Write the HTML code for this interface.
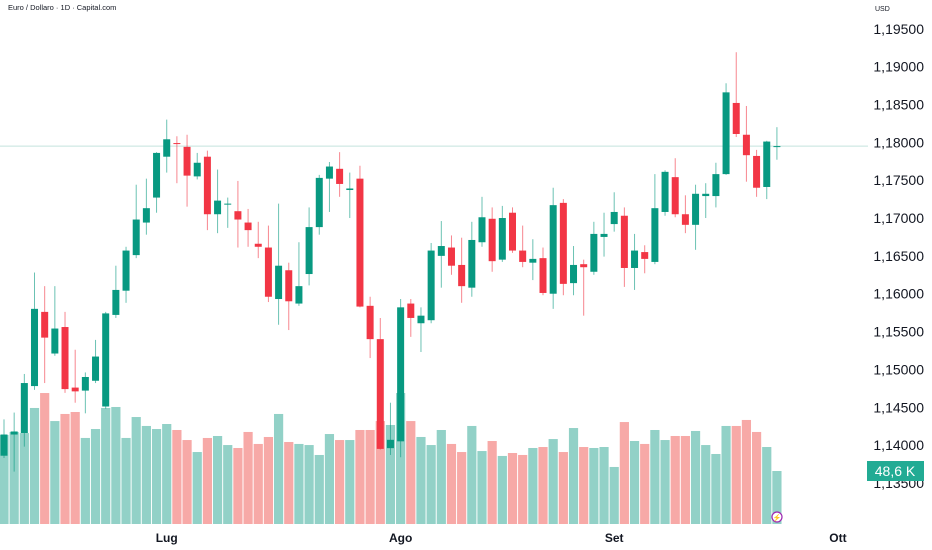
<!DOCTYPE html>
<html><head><meta charset="utf-8">
<style>
html,body{margin:0;padding:0;background:#fff;}
svg{display:block;font-family:"Liberation Sans",sans-serif;}
</style></head>
<body>
<svg id="chart" width="932" height="550" viewBox="0 0 932 550" xmlns="http://www.w3.org/2000/svg">
<rect width="932" height="550" fill="#ffffff"/>
<text x="8" y="10" font-size="7.5" fill="#131722">Euro / Dollaro · 1D · Capital.com</text>
<text x="875" y="11" font-size="7" fill="#131722">USD</text>
<g id="yaxis"></g>
<g id="xaxis"></g>
<line id="pline" x1="0" x2="868" stroke="#c4e3de" stroke-width="1"/>
<g id="vol"></g>
<g id="candles"></g>
<g>
<rect x="867" y="461" width="57" height="20" fill="#22ab94"/>
<text x="895" y="476" font-size="14" fill="#ffffff" text-anchor="middle">48,6 K</text>
</g>
<g>
<circle cx="777" cy="517" r="5" fill="#fff" stroke="#9c27b0" stroke-width="1.2"/>
<text x="777" y="520" font-size="7" fill="#9c27b0" text-anchor="middle">⚡</text>
</g>
</svg>
<script>
const opens  =[1.1386,1.1414,1.1416,1.1478,1.1576,1.1521,1.1556,1.1476,1.1472,1.1485,1.1451,1.1572,1.1604,1.1651,1.1694,1.1727,1.1781,1.1799,1.1794,1.1755,1.1781,1.1705,1.1718,1.1709,1.1694,1.1666,1.1661,1.1593,1.1631,1.1587,1.1626,1.1688,1.1752,1.1765,1.1737,1.1752,1.1584,1.1540,1.1396,1.1405,1.1587,1.1561,1.1565,1.1650,1.1661,1.1638,1.1608,1.1668,1.1699,1.1645,1.1707,1.1657,1.1641,1.1647,1.1600,1.1720,1.1614,1.1639,1.1629,1.1675,1.1692,1.1703,1.1634,1.1655,1.1642,1.1708,1.1754,1.1705,1.1691,1.1729,1.1729,1.1758,1.1852,1.1810,1.1782,1.1741,1.1795];
const highs  =[1.1434,1.1443,1.1494,1.1628,1.1610,1.1610,1.1576,1.1526,1.1496,1.1539,1.1576,1.1637,1.1662,1.1744,1.1752,1.1787,1.1830,1.1808,1.1810,1.1786,1.1789,1.1764,1.1727,1.1749,1.1712,1.1695,1.1690,1.1719,1.1641,1.1668,1.1714,1.1757,1.1774,1.1787,1.1760,1.1769,1.1596,1.1568,1.1456,1.1593,1.1593,1.1582,1.1667,1.1696,1.1677,1.1674,1.1695,1.1728,1.1714,1.1716,1.1714,1.1690,1.1672,1.1661,1.1740,1.1725,1.1663,1.1645,1.1695,1.1707,1.1734,1.1714,1.1679,1.1664,1.1758,1.1763,1.1779,1.1730,1.1744,1.1746,1.1773,1.1878,1.1919,1.1848,1.1790,1.1802,1.1820];
const lows   =[1.1383,1.1365,1.1398,1.1473,1.1482,1.1518,1.1469,1.1456,1.1442,1.1482,1.1448,1.1568,1.1588,1.1647,1.1678,1.1707,1.1760,1.1746,1.1715,1.1751,1.1684,1.1680,1.1687,1.1661,1.1662,1.1647,1.1589,1.1559,1.1552,1.1584,1.1611,1.1678,1.1708,1.1728,1.1700,1.1582,1.1515,1.1394,1.1387,1.1384,1.1543,1.1523,1.1561,1.1608,1.1625,1.1588,1.1596,1.1662,1.1629,1.1642,1.1654,1.1635,1.1618,1.1598,1.1580,1.1598,1.1598,1.1571,1.1625,1.1649,1.1682,1.1609,1.1605,1.1627,1.1639,1.1703,1.1701,1.1680,1.1658,1.1700,1.1714,1.1757,1.1807,1.1748,1.1728,1.1725,1.1777];
const closes =[1.1414,1.1418,1.1482,1.1580,1.1542,1.1554,1.1474,1.1471,1.1490,1.1517,1.1574,1.1605,1.1657,1.1698,1.1713,1.1786,1.1804,1.1798,1.1756,1.1773,1.1705,1.1723,1.1719,1.1698,1.1684,1.1662,1.1596,1.1637,1.1590,1.1610,1.1688,1.1753,1.1768,1.1745,1.1739,1.1583,1.1540,1.1395,1.1407,1.1582,1.1568,1.1571,1.1657,1.1663,1.1637,1.1610,1.1671,1.1701,1.1643,1.1700,1.1657,1.1642,1.1646,1.1601,1.1717,1.1613,1.1638,1.1635,1.1679,1.1679,1.1708,1.1634,1.1657,1.1646,1.1713,1.1761,1.1705,1.1691,1.1732,1.1732,1.1758,1.1866,1.1811,1.1783,1.1740,1.1801,1.1795];
const volumes=[81.6,84.4,83.4,106.4,120.1,94.4,100.9,102.7,78.9,87.1,106.4,107.3,78.9,98.1,89.9,87.1,91.7,86.2,77.0,66.0,78.9,80.7,72.4,69.7,84.4,73.4,79.8,100.9,75.2,73.4,72.4,63.3,82.5,77.0,77.0,86.2,86.2,94.4,90.8,120.1,94.4,79.8,72.4,86.2,73.4,66.0,89.9,66.9,76.1,62.4,65.1,63.3,69.7,70.6,77.9,66.0,88.0,70.6,69.7,70.6,52.3,93.5,76.1,73.4,86.2,77.0,80.7,80.7,85.3,72.4,64.2,89.9,89.9,95.4,84.4,70.6,48.6];
const priceTicks=[1.195,1.19,1.185,1.18,1.175,1.17,1.165,1.16,1.155,1.15,1.145,1.14,1.135];
const monthLabels=["Lug","Ago","Set","Ott"];
const monthIndex=[16,39,60,82];

const NS="http://www.w3.org/2000/svg";
const X0=4, STEP=10.17;
function xOf(i){return X0+i*STEP;}
function yOf(p){return (1.1988-p)*7570;}
const VBASE=524, VSCALE=53/48.6;
function vy(v){return VBASE-v*VSCALE;}
function mk(tag,attrs,parent){const e=document.createElementNS(NS,tag);for(const k in attrs)e.setAttribute(k,attrs[k]);parent.appendChild(e);return e;}

const yaxis=document.getElementById('yaxis');
priceTicks.forEach(function(p){
  const t=mk('text',{x:924,y:yOf(p)+5,'font-size':14,fill:'#131722','text-anchor':'end'},yaxis);
  
  
  t.textContent=p.toFixed(5).replace('.',',');
});
const xaxis=document.getElementById('xaxis');
monthLabels.forEach(function(m,k){
  const t=mk('text',{x:xOf(monthIndex[k]),y:542,'font-size':12,'font-weight':'bold',fill:'#131722','text-anchor':'middle'},xaxis);
  
  
  t.textContent=m;
});
const pl=document.getElementById('pline');
pl.setAttribute('y1',yOf(closes[closes.length-1]));
pl.setAttribute('y2',yOf(closes[closes.length-1]));

const vol=document.getElementById('vol');
const cg=document.getElementById('candles');
for(let i=0;i<opens.length;i++){
  const up=closes[i]>=opens[i];
  const x=xOf(i);
  const r=mk('rect',{x:x-4.6,y:vy(volumes[i]),width:9.2,height:VBASE-vy(volumes[i]),fill:up?'#92d1c7':'#f7a9a7'},vol);
  
  
  const col=up?'#089981':'#f23645';
  const w=mk('line',{x1:x,x2:x,y1:yOf(highs[i]),y2:yOf(lows[i]),stroke:col,'stroke-width':1,'stroke-opacity':0.6},cg);
  
  
  const top=yOf(Math.max(opens[i],closes[i])),bot=yOf(Math.min(opens[i],closes[i]));
  const b=mk('rect',{x:x-3.5,y:top,width:7,height:Math.max(1,bot-top),fill:col},cg);
  
  
}
</script>
</body></html>
